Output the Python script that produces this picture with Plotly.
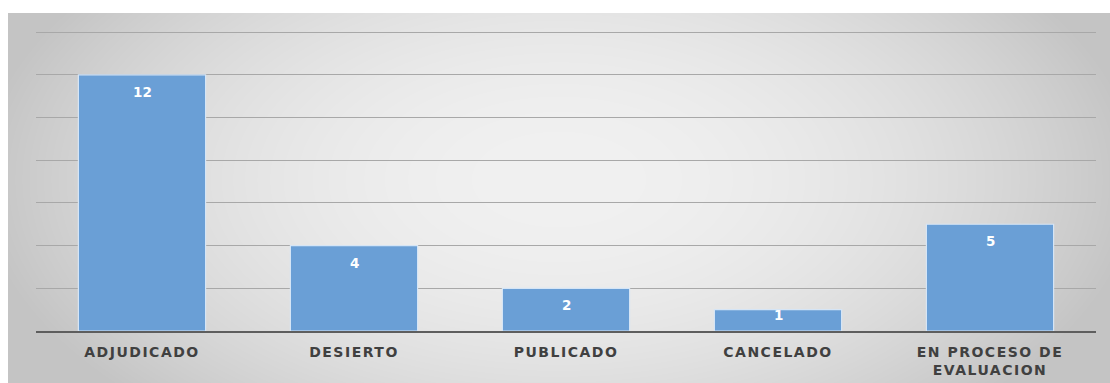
import base64
import struct
import zlib

import numpy as np
import plotly.graph_objects as go

# Estados de los procesos y cantidad en cada uno
categorias = ["ADJUDICADO", "DESIERTO", "PUBLICADO", "CANCELADO", "EN PROCESO DE<br>EVALUACION"]
cantidades = [12, 4, 2, 1, 5]
marcas_eje_y = [0, 2, 4, 6, 8, 10, 12, 14]

W, H = 1110, 383
PLOT_L, PLOT_R, PLOT_T, PLOT_B = 36, 1096, 30, 331
BG_X0, BG_X1, BG_Y0, BG_Y1 = 8, 1110, 13, 383
Y_MAX = 14.1


def png_data_uri(rgb):
    """Encode an (h, w, 3) uint8 array as a PNG data URI."""
    h, w, _ = rgb.shape
    raw = b"".join(b"\x00" + rgb[i].tobytes() for i in range(h))

    def chunk(tag, data):
        c = struct.pack(">I", len(data)) + tag + data
        return c + struct.pack(">I", zlib.crc32(tag + data) & 0xFFFFFFFF)

    png = b"\x89PNG\r\n\x1a\n"
    png += chunk(b"IHDR", struct.pack(">IIBBBBB", w, h, 8, 2, 0, 0, 0))
    png += chunk(b"IDAT", zlib.compress(raw, 9))
    png += chunk(b"IEND", b"")
    return "data:image/png;base64," + base64.b64encode(png).decode()


# Radial grey gradient for the chart area background
gw, gh = BG_X1 - BG_X0, BG_Y1 - BG_Y0
xs = (np.arange(gw) / (gw - 1) - 0.5) / 0.5
ys = (np.arange(gh) / (gh - 1) - 0.45) / 0.55
d2 = xs[None, :] ** 2 + 0.45 * ys[:, None] ** 2
val = np.clip(241 - 40 * d2, 196, 255).astype(np.uint8)
grad = np.repeat(val[:, :, None], 3, axis=2)

pw, ph = PLOT_R - PLOT_L, PLOT_B - PLOT_T
px_per_unit = ph / Y_MAX

fig = go.Figure(
    go.Bar(
        x=categorias,
        y=cantidades,
        width=0.6,
        marker=dict(color="#6A9FD6", line=dict(color="#D5E5F6", width=1.2)),
        hoverinfo="skip",
    )
)

# Value labels just inside the top of each bar (pulled up on very short bars)
for cat, v in zip(categorias, cantidades):
    shift = min(17, v * px_per_unit - 15.5)
    fig.add_annotation(
        x=cat,
        y=v,
        yshift=-shift,
        text=str(v),
        showarrow=False,
        font=dict(family="DejaVu Sans", size=13.5, color="white", weight="bold"),
    )

fig.update_layout(
    width=W,
    height=H,
    margin=dict(l=PLOT_L, r=W - PLOT_R, t=PLOT_T, b=H - PLOT_B, autoexpand=False),
    paper_bgcolor="white",
    plot_bgcolor="rgba(0,0,0,0)",
    showlegend=False,
    images=[
        dict(
            source=png_data_uri(grad),
            xref="paper",
            yref="paper",
            x=(BG_X0 - PLOT_L) / pw,
            y=(PLOT_B - BG_Y0) / ph,
            sizex=gw / pw,
            sizey=gh / ph,
            sizing="stretch",
            xanchor="left",
            yanchor="top",
            layer="below",
        )
    ],
)

fig.update_xaxes(
    showgrid=False,
    showline=True,
    linecolor="#5E5E5E",
    linewidth=2,
    ticks="",
    automargin=False,
    ticklabelstandoff=7,
    tickfont=dict(family="DejaVu Sans", size=14, color="#404040", weight="bold"),
    range=[-0.5, 4.5],
)

fig.update_yaxes(
    range=[0, Y_MAX],
    tickvals=marcas_eje_y,
    showticklabels=False,
    showgrid=True,
    gridcolor="#A8A8A8",
    gridwidth=1,
    zeroline=False,
    showline=False,
    automargin=False,
    ticks="",
)

# Wider tracking on the category labels
spacing_js = """
var gd = document.getElementById('{plot_id}');
gd.querySelectorAll('.xtick text').forEach(function (t) {
    t.style.letterSpacing = '1.5px';
});
"""

fig.write_html("out.html", post_script=spacing_js)
